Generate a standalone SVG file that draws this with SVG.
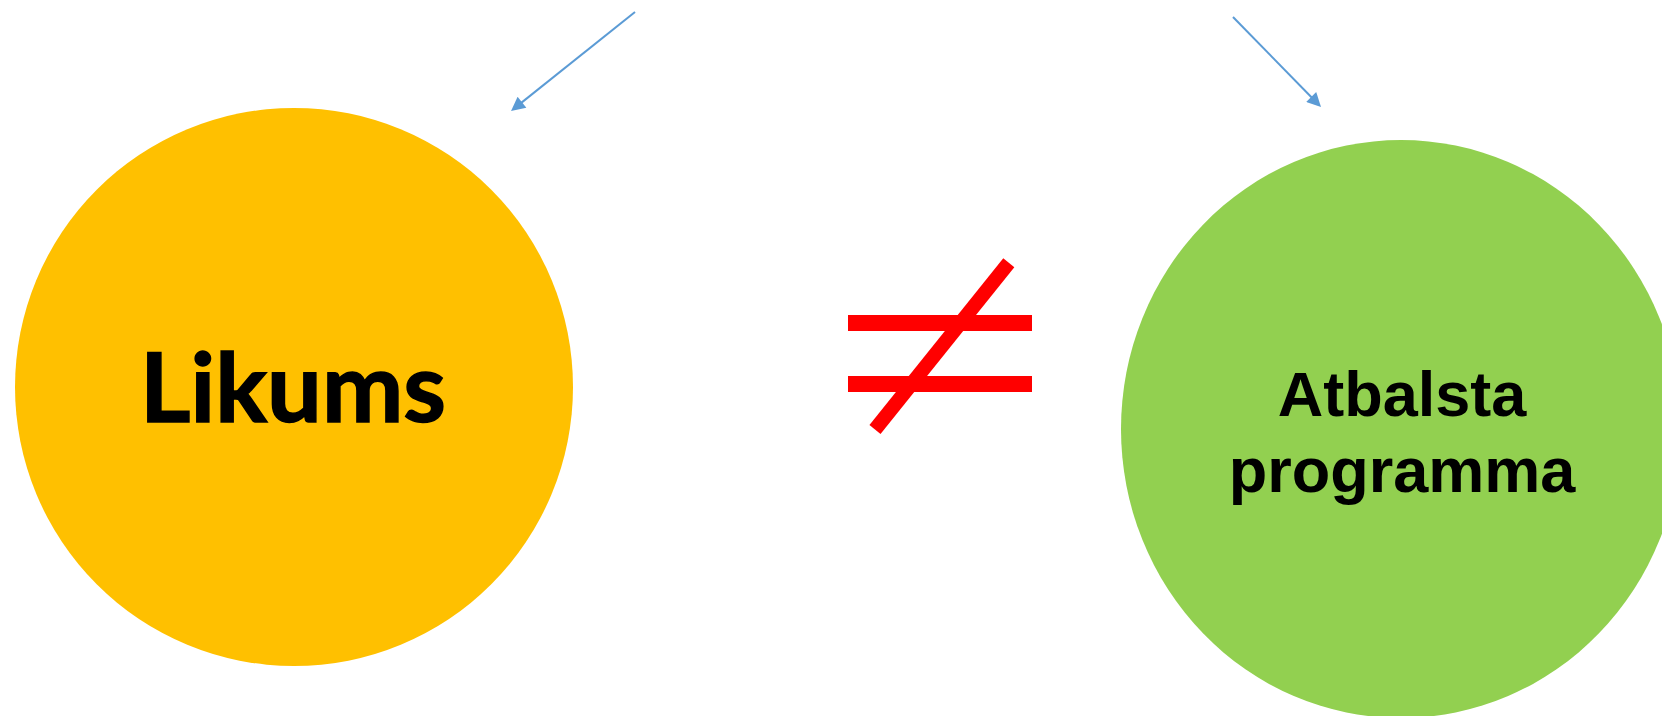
<svg xmlns="http://www.w3.org/2000/svg" width="1662" height="716" viewBox="0 0 1662 716">
<style>
.conn{stroke:#5B9BD5;stroke-width:2;fill:none;marker-end:url(#ah)}
.neq{fill:#FF0000}
.t1{font-family:Lato,"Open Sans","Liberation Sans",sans-serif;font-weight:bold;font-size:96px;fill:#000}
.t2{font-family:"Liberation Sans",Arial,sans-serif;font-weight:bold;font-size:63px;fill:#000}
</style>
<defs>
<marker id="ah" viewBox="0 0 10 10" refX="5" refY="5" markerWidth="7.5" markerHeight="7" markerUnits="strokeWidth" orient="auto">
<path d="M0,0 L10,5 L0,10 z" fill="#5B9BD5"/>
</marker>
</defs>
<rect width="1662" height="716" fill="#FFFFFF"/>
<g id="likums">
<circle cx="294" cy="387" r="279" fill="#FFC000"/>
<text class="t1" x="293" y="422" text-anchor="middle" textLength="306" lengthAdjust="spacingAndGlyphs" stroke="#000" stroke-width="1.5">Likums</text>
</g>
<g id="atbalsta">
<ellipse cx="1401" cy="429" rx="280" ry="289" fill="#92D050"/>
<text class="t2" x="1402" y="416" text-anchor="middle">Atbalsta</text>
<text class="t2" x="1402" y="492" text-anchor="middle">programma</text>
</g>
<g id="not-equal">
<rect class="neq" x="848" y="315" width="184" height="16"/>
<rect class="neq" x="848" y="376" width="184" height="16"/>
<line x1="875" y1="429.5" x2="1008.8" y2="262.8" stroke="#FF0000" stroke-width="14.2"/>
</g>
<g id="connectors">
<line class="conn" x1="635" y1="12" x2="516.5" y2="106.6"/>
<line class="conn" x1="1233" y1="17" x2="1316.1" y2="102"/>
</g>
</svg>
